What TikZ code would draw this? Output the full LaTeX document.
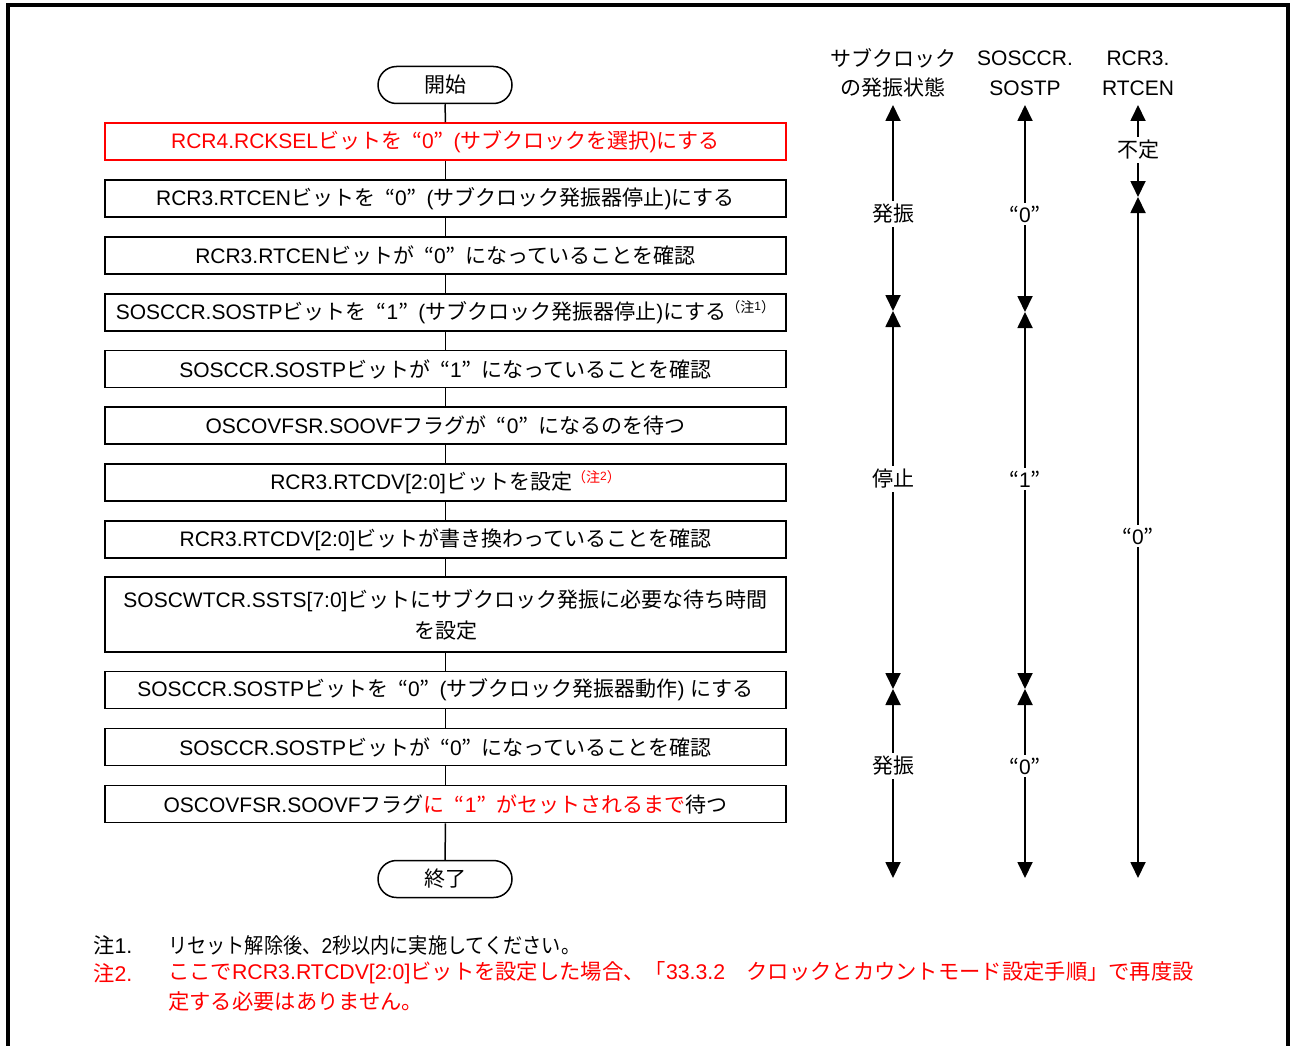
\documentclass[tikz,border=0pt]{standalone}
\usepackage{fontspec}
\setmainfont{Liberation Sans}
\newfontfamily\cjkfont{Noto Sans CJK JP}
\usetikzlibrary{arrows.meta}
\XeTeXinterchartokenstate=1
\ifdefined\newXeTeXintercharclass
  \newXeTeXintercharclass\cjkclass
\else
  \chardef\cjkclass=10
\fi
\newcount\cjkcnt
\def\setcjkrange#1#2{\cjkcnt=#1\relax
  \loop\XeTeXcharclass\cjkcnt=\cjkclass\advance\cjkcnt by 1\relax
  \ifnum\cjkcnt<#2\relax\repeat}
\setcjkrange{"3000}{"3100}
\setcjkrange{"4E00}{"A000}
\setcjkrange{"FF00}{"FFF0}
\XeTeXcharclass"201C=\cjkclass
\XeTeXcharclass"201D=\cjkclass
\XeTeXinterchartoks 0 \cjkclass={\cjkfont}
\XeTeXinterchartoks 4095 \cjkclass={\cjkfont}
\XeTeXinterchartoks \cjkclass 0={\rmfamily}
\XeTeXinterchartoks 4095 0={\rmfamily}
\newcommand\oq{\makebox[0.95em][r]{“}}
\newcommand\cq{\makebox[0.95em][l]{”}}
\newcommand\myfs{\fontsize{21}{31}\selectfont}
\newcommand\notefs{\fontsize{21.3}{28}\selectfont}
\newcommand\chu[1]{\raisebox{7pt}{\fontsize{14}{14}\selectfont （注\raisebox{2pt}{\fontsize{12}{12}\selectfont #1}）}}
\tikzset{
  box/.style={draw, line width=1.5pt, minimum width=681pt, minimum height=37pt, inner sep=0pt, align=center, font=\myfs},
  term/.style={draw, line width=1.5pt, rounded corners=18.5pt, minimum width=134pt, minimum height=37pt, inner sep=0pt, font=\myfs},
  flow/.style={line width=1.5pt},
  arr/.style={line width=1.8pt, {Triangle[length=16pt,width=15pt]}-{Triangle[length=16pt,width=15pt]}},
  lab/.style={fill=white, inner sep=3pt, font=\myfs},
  hdr/.style={inner sep=0pt, font=\myfs},
  note/.style={inner sep=0pt, anchor=west, font=\notefs},
}
\begin{document}
\begin{tikzpicture}[x=1pt,y=-1pt]
\useasboundingbox (0,0) rectangle (1290,1046);
\draw[line width=3.5pt] (8,1050) -- (8,5) -- (1288,5) -- (1288,1050);

% flowchart
\node[term] (s) at (445,85) {開始};
\node[box,draw=red,text=red] (b1) at (445.5,141.5) {RCR4.RCKSELビットを\oq0\cq(サブクロックを選択)にする};
\node[box] (b2) at (445.5,198.5) {RCR3.RTCENビットを\oq0\cq(サブクロック発振器停止)にする};
\node[box] (b3) at (445.5,255.5) {RCR3.RTCENビットが\oq0\cq になっていることを確認};
\node[box] (b4) at (445.5,312.5) {SOSCCR.SOSTPビットを\oq1\cq(サブクロック発振器停止)にする\chu{1}};
\node[box] (b5) at (445.5,369) {SOSCCR.SOSTPビットが\oq1\cq になっていることを確認};
\node[box] (b6) at (445.5,425.5) {OSCOVFSR.SOOVFフラグが\oq0\cq になるのを待つ};
\node[box] (b7) at (445.5,482.5) {RCR3.RTCDV[2:0]ビットを設定\textcolor{red}{\chu{2}}};
\node[box] (b8) at (445.5,539.5) {RCR3.RTCDV[2:0]ビットが書き換わっていることを確認};
\node[box,minimum height=75pt] (b9) at (445.5,614.5) {SOSCWTCR.SSTS[7:0]ビットにサブクロック発振に必要な待ち時間\\を設定};
\node[box] (b10) at (445.5,690) {SOSCCR.SOSTPビットを\oq0\cq(サブクロック発振器動作) にする};
\node[box] (b11) at (445.5,747) {SOSCCR.SOSTPビットが\oq0\cq になっていることを確認};
\node[box] (b12) at (445.5,804) {OSCOVFSR.SOOVFフラグ\textcolor{red}{に\oq1\cq がセットされるまで}待つ};
\node[term] (e) at (445,879) {終了};
\draw[flow] (s) -- (b1);
\foreach \a/\b in {b1/b2,b2/b3,b3/b4,b4/b5,b5/b6,b6/b7,b7/b8,b8/b9,b9/b10,b10/b11,b11/b12,b12/e}
  \draw[flow] (\a) -- (\b);

% headers
\node[hdr] (h1a) at (893,58) {サブクロック};
\node[hdr] (h1b) at (893,88) {の発振状態};
\node[hdr] (h2a) at (1025,58) {SOSCCR.};
\node[hdr] (h2b) at (1025,88) {SOSTP};
\node[hdr] (h3a) at (1138,58) {RCR3.};
\node[hdr] (h3b) at (1138,88) {RTCEN};

% column 1
\coordinate (c1a) at (893,105);
\coordinate (c1b) at (893,311);
\coordinate (c1c) at (893,689);
\coordinate (c1d) at (893,878);
\draw[arr] (c1a) -- (c1b);
\draw[arr] (c1b) -- (c1c);
\draw[arr] (c1c) -- (c1d);
\node[lab] (l11) at (893,214) {発振};
\node[lab] (l12) at (893,479) {停止};
\node[lab] (l13) at (893,766) {発振};

% column 2
\coordinate (c2a) at (1025,105);
\coordinate (c2b) at (1025,312);
\coordinate (c2c) at (1025,689);
\coordinate (c2d) at (1025,878);
\draw[arr] (c2a) -- (c2b);
\draw[arr] (c2b) -- (c2c);
\draw[arr] (c2c) -- (c2d);
\node[lab] (l21) at (1025,214) {“0”};
\node[lab] (l22) at (1025,479) {“1”};
\node[lab] (l23) at (1025,766) {“0”};

% column 3
\coordinate (c3a) at (1138,105);
\coordinate (c3b) at (1138,197);
\coordinate (c3c) at (1138,878);
\draw[arr] (c3a) -- (c3b);
\draw[arr] (c3b) -- (c3c);
\node[lab] (l31) at (1138,150) {不定};
\node[lab] (l32) at (1138,536) {“0”};

% notes
\node[note] (n1) at (93,945) {注1.};
\node[note] (n1t) at (168,945) {\scalebox{0.9}[1]{リセット解除後、2秒以内に実施してください。}};
\node[note,text=red] (n2) at (93,973) {注2.};
\node[note,text=red] (n2t) at (168,973) {ここでRCR3.RTCDV[2:0]ビットを設定した場合、「33.3.2　クロックとカウントモード設定手順」で再度設};
\node[note,text=red] (n2u) at (168,1001) {定する必要はありません。};
\end{tikzpicture}
\end{document}
